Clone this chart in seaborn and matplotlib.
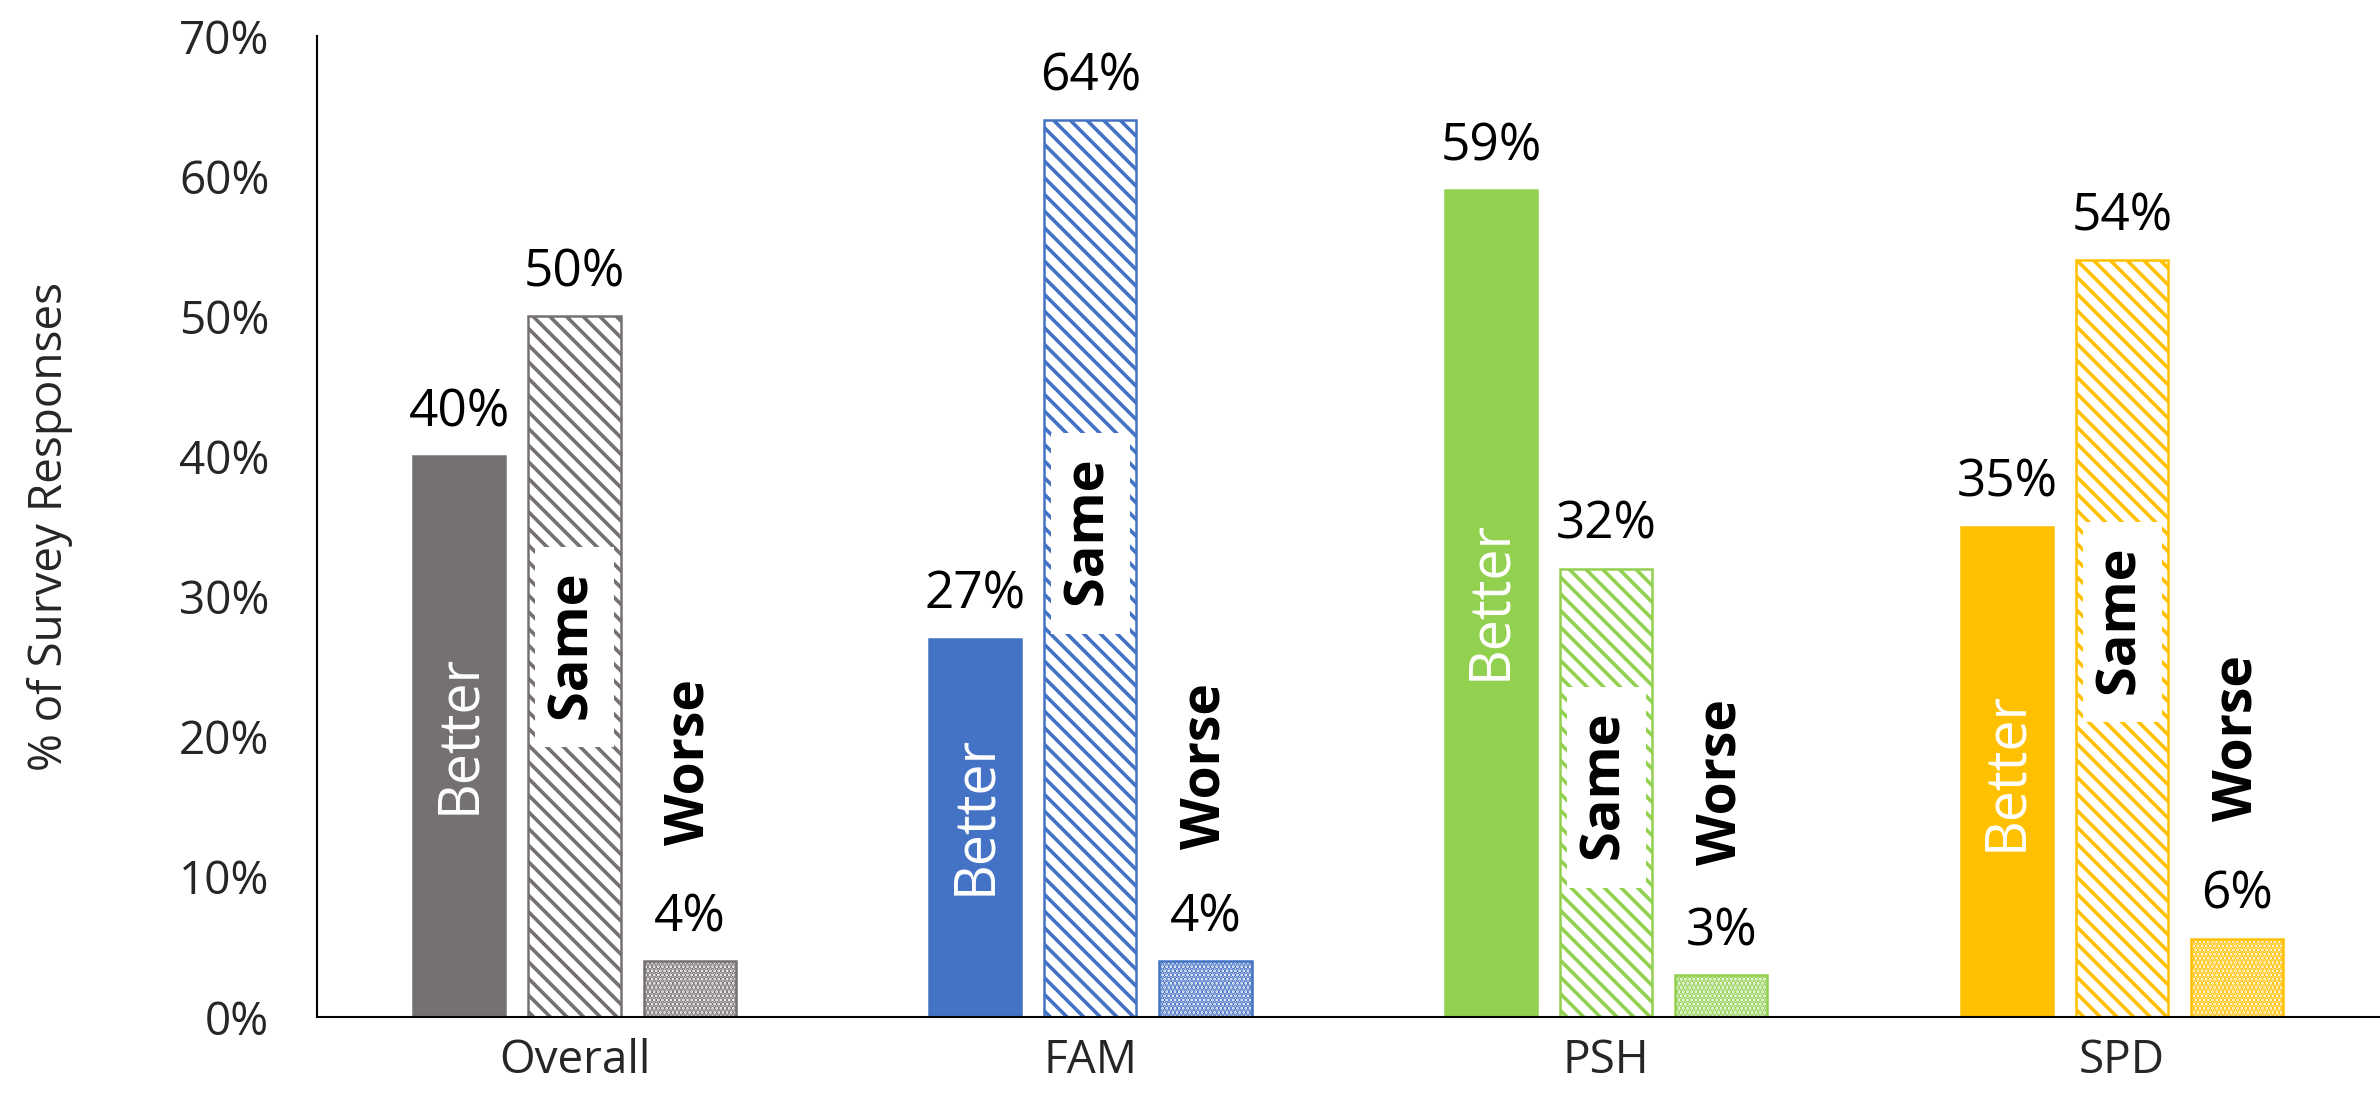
import matplotlib
matplotlib.use("Agg")
import matplotlib.pyplot as plt
import matplotlib.ticker as mticker
import seaborn as sns
import pandas as pd

# chart data
groups = ["Overall", "FAM", "PSH", "SPD"]
responses = ["Better", "Same", "Worse"]
better = [0.40, 0.27, 0.59, 0.35]
same = [0.50, 0.64, 0.32, 0.54]
worse = [0.04, 0.04, 0.03, 0.056]
group_colors = ["#767171", "#4472C4", "#92D050", "#FFC000"]
y_ticks = [0.0, 0.1, 0.2, 0.3, 0.4, 0.5, 0.6, 0.7]

# where the rotated category names sit inside each group
better_label_y = [0.202, 0.144, 0.298, 0.176]
same_label_y = [0.264, 0.345, 0.164, 0.282]
worse_label_y = [0.182, 0.179, 0.168, 0.199]

sns.set_style("white")
plt.rcParams["font.family"] = ["Open Sans", "DejaVu Sans"]
plt.rcParams["hatch.linewidth"] = 2.6

df = pd.DataFrame({
    "Group": groups * 3,
    "Response": [r for r in responses for _ in groups],
    "Share": better + same + worse,
})

fig, ax = plt.subplots(figsize=(23.8, 11.08), dpi=100)
fig.subplots_adjust(left=0.133, right=1.0, bottom=0.082, top=0.9675)

sns.barplot(data=df, x="Group", y="Share", hue="Response", order=groups,
            hue_order=responses, width=0.67, gap=0.2, legend=False,
            errorbar=None, ax=ax)

hatches = {"Better": None, "Same": "\\\\", "Worse": "...."}
label_y = {"Better": better_label_y, "Same": same_label_y, "Worse": worse_label_y}

for container, resp in zip(ax.containers, responses):
    for j, bar in enumerate(container):
        col = group_colors[j]
        if resp == "Better":
            bar.set_facecolor(col)
            bar.set_edgecolor(col)
        else:
            bar.set_facecolor("white")
            bar.set_edgecolor(col)
            bar.set_hatch(hatches[resp])
        bar.set_linewidth(1.8)

        xc = bar.get_x() + bar.get_width() / 2
        y = label_y[resp][j]
        if resp == "Better":
            ax.text(xc, y, "Better", rotation=90, ha="center", va="center",
                    color="white", fontsize=40)
        elif resp == "Same":
            ax.text(xc, y, " Same ", rotation=90, ha="center", va="center",
                    color="black", fontsize=39, fontweight="bold",
                    bbox=dict(facecolor="white", edgecolor="none", pad=9))
        else:
            ax.text(xc, y, "Worse", rotation=90, ha="center", va="center",
                    color="black", fontsize=38.5, fontweight="bold")

    ax.bar_label(container, labels=[f"{b.get_height():.0%}" for b in container],
                 padding=13, fontsize=37, color="black")

ax.set_ylim(0, 0.7)
ax.set_xlim(-0.5, 3.5)
ax.set_yticks(y_ticks)
ax.yaxis.set_major_formatter(mticker.PercentFormatter(1.0, decimals=0))
ax.tick_params(axis="y", length=0, pad=34, labelsize=33)
ax.tick_params(axis="x", length=0, pad=15, labelsize=33)
ax.set_xlabel("")
ax.set_ylabel("% of Survey Responses", fontsize=33)
ax.yaxis.set_label_coords(-0.118, 0.5)

sns.despine(ax=ax, top=True, right=True)
for side in ["left", "bottom"]:
    ax.spines[side].set_color("#000000")
    ax.spines[side].set_linewidth(1.5)

fig.savefig("out.png", dpi=100)
